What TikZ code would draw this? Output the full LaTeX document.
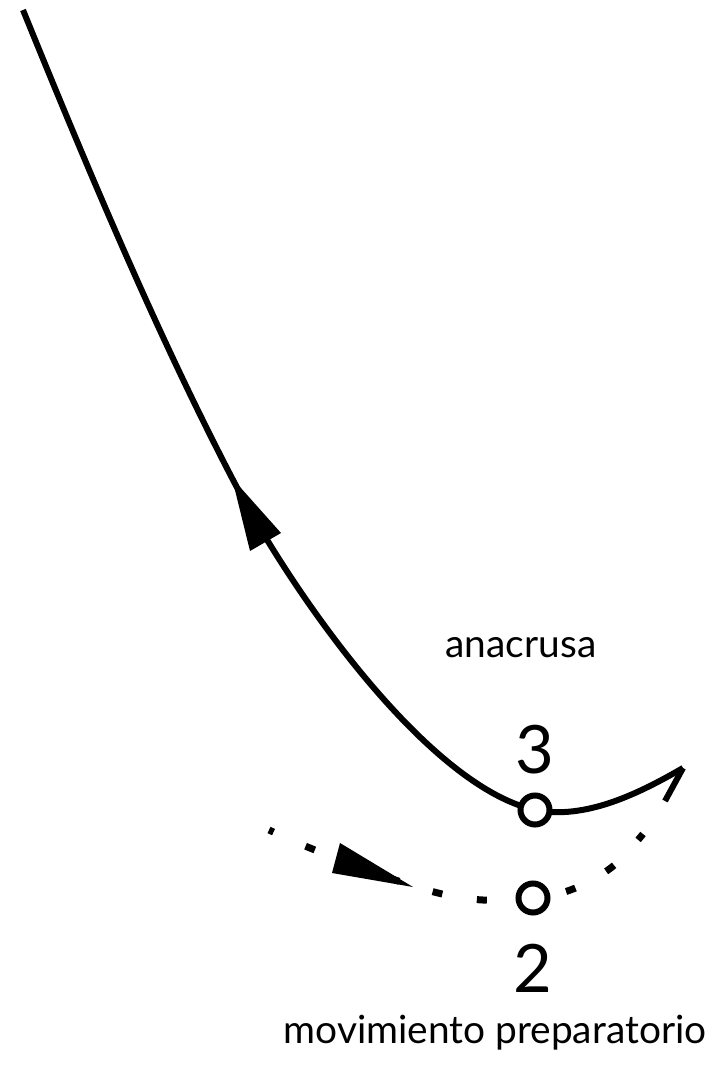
\documentclass[tikz,border=0pt]{standalone}
\usepackage{fontspec}
\setmainfont{Lato}
\tikzset{
  stroke/.style={line width=6bp, black},
  dotline/.style={line width=7bp, black, dash pattern=on 10bp off 35bp},
  ring/.style={circle, draw, line width=6bp, fill=white, minimum size=29bp, inner sep=0pt},
  head/.style={fill=black, draw=none},
  lbl/.style={font=\fontsize{39}{46}\selectfont, anchor=base, inner sep=0pt},
  num/.style={font=\fontsize{67}{74}\selectfont, anchor=base, inner sep=0pt}
}
\begin{document}
\begin{tikzpicture}[x=1bp, y=-1bp]
\useasboundingbox (0,0) rectangle (711,1067);
% coordinates
\coordinate (s) at (23,10);
\coordinate (a) at (232,478);
\coordinate (c3) at (535,810);
\coordinate (e) at (683,768);
\coordinate (barb) at (665,801);
% main curve
\draw[stroke] (s) .. controls (84,160) and (154,328) .. (a)
  .. controls (289,588) and (425,785) .. (c3)
  .. controls (585,820) and (638,794) .. (e);
\draw[stroke] (e) -- (barb);
% filled arrowhead on main curve
\fill[head] (a) -- (250,551) -- (281,533) -- cycle;
% dotted preparatory movement
\draw[dotline, dash phase=5bp] plot[smooth, tension=0.6] coordinates {(269,830) (310,848) (375,873) (438,893) (483,900) (533,898) (573,889) (612,867) (643,834)};
\fill[head] (413,887) -- (340,843) -- (332,873) -- cycle;
% rings
\node[ring] (p3) at (c3) {};
\node[ring] (p2) at (533,898) {};
% labels
\node[num] (n3) at (535,773) {3};
\node[num] (n2) at (533,992) {2};
\node[lbl] (ana) at (521,657) {anacrusa};
\node[lbl] (mov) at (495,1043) {movimiento preparatorio};
\end{tikzpicture}
\end{document}
